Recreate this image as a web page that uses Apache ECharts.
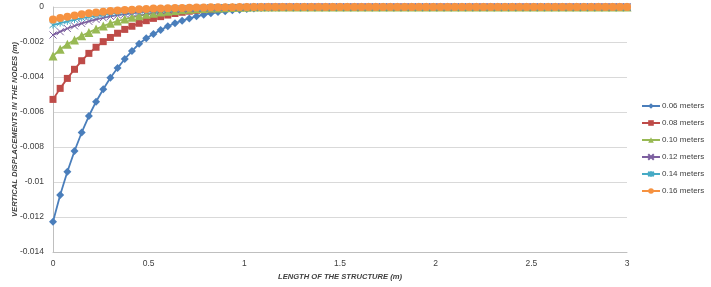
<!DOCTYPE html>
<html>
<head>
<meta charset="utf-8">
<script src="https://cdn.jsdelivr.net/npm/echarts@6/dist/echarts.min.js"></script>
<style>html,body{margin:0;padding:0;background:#fff}#c{width:711px;height:287px}</style>
</head>
<body>
<div id="c"></div>
<script>
// node positions along the structure (m), 81 nodes
const xNodes = [
  0,0.0375,0.075,0.1125,0.15,0.1875,0.225,0.2625,0.3,0.3375,
  0.375,0.4125,0.45,0.4875,0.525,0.5625,0.6,0.6375,0.675,0.7125,
  0.75,0.7875,0.825,0.8625,0.9,0.9375,0.975,1.0125,1.05,1.0875,
  1.125,1.1625,1.2,1.2375,1.275,1.3125,1.35,1.3875,1.425,1.4625,
  1.5,1.5375,1.575,1.6125,1.65,1.6875,1.725,1.7625,1.8,1.8375,
  1.875,1.9125,1.95,1.9875,2.025,2.0625,2.1,2.1375,2.175,2.2125,
  2.25,2.2875,2.325,2.3625,2.4,2.4375,2.475,2.5125,2.55,2.5875,
  2.625,2.6625,2.7,2.7375,2.775,2.8125,2.85,2.8875,2.925,2.9625,
  3];

const seriesNames = ['0.06 meters','0.08 meters','0.10 meters','0.12 meters','0.14 meters','0.16 meters'];

const d006 = [
  -0.01227,-0.01074,-0.00941,-0.00823,-0.00717,-0.00623,-0.00541,-0.00470,-0.00404,-0.00349,
  -0.00297,-0.00252,-0.00210,-0.00179,-0.00154,-0.00131,-0.00110,-0.00093,-0.00078,-0.00065,
  -0.00053,-0.00044,-0.00036,-0.00029,-0.00024,-0.00019,-0.00015,-0.00011,-0.00008,-0.00006,
  -0.00004,-0.00003,-0.00002,-0.00001,-0.000005,0,0,0,0,0,
  0,0,0,0,0,0,0,0,0,0,
  0,0,0,0,0,0,0,0,0,0,
  0,0,0,0,0,0,0,0,0,0,
  0,0,0,0,0,0,0,0,0,0,
  0];
const d008 = [
  -0.00528,-0.00465,-0.00408,-0.00356,-0.00307,-0.00265,-0.00230,-0.00198,-0.00174,-0.00150,
  -0.00128,-0.00110,-0.00093,-0.00078,-0.00065,-0.00055,-0.00046,-0.00037,-0.00030,-0.00024,
  -0.00019,-0.00015,-0.00011,-0.00008,-0.00006,-0.00004,-0.00003,-0.00002,-0.00001,-0.000005,
  0,0,0,0,0,0,0,0,0,0,
  0,0,0,0,0,0,0,0,0,0,
  0,0,0,0,0,0,0,0,0,0,
  0,0,0,0,0,0,0,0,0,0,
  0,0,0,0,0,0,0,0,0,0,
  0];
const d010 = [
  -0.00280,-0.00242,-0.00213,-0.00188,-0.00164,-0.00145,-0.00126,-0.00109,-0.00093,-0.00080,
  -0.00069,-0.00059,-0.00050,-0.00042,-0.00035,-0.00029,-0.00024,-0.00020,-0.00016,-0.00013,
  -0.00010,-0.00008,-0.00006,-0.00005,-0.00004,-0.00003,-0.00002,-0.00001,-0.000005,0,
  0,0,0,0,0,0,0,0,0,0,
  0,0,0,0,0,0,0,0,0,0,
  0,0,0,0,0,0,0,0,0,0,
  0,0,0,0,0,0,0,0,0,0,
  0,0,0,0,0,0,0,0,0,0,
  0];
const d012 = [
  -0.00160,-0.00141,-0.00123,-0.00108,-0.00094,-0.00082,-0.00071,-0.00062,-0.00054,-0.00047,
  -0.00041,-0.00036,-0.00031,-0.00027,-0.00023,-0.00020,-0.00017,-0.00014,-0.00012,-0.00010,
  -0.00008,-0.00007,-0.00005,-0.00004,-0.00003,-0.00003,-0.00002,-0.00001,-0.00001,-0.000005,
  0,0,0,0,0,0,0,0,0,0,
  0,0,0,0,0,0,0,0,0,0,
  0,0,0,0,0,0,0,0,0,0,
  0,0,0,0,0,0,0,0,0,0,
  0,0,0,0,0,0,0,0,0,0,
  0];
const d014 = [
  -0.00103,-0.00092,-0.00082,-0.00072,-0.00063,-0.00056,-0.00049,-0.00043,-0.00038,-0.00033,
  -0.00029,-0.00025,-0.00022,-0.00019,-0.00016,-0.00014,-0.00012,-0.00010,-0.00008,-0.00007,
  -0.00006,-0.00005,-0.00004,-0.00003,-0.00002,-0.00002,-0.00001,-0.00001,-0.000005,0,
  0,0,0,0,0,0,0,0,0,0,
  0,0,0,0,0,0,0,0,0,0,
  0,0,0,0,0,0,0,0,0,0,
  0,0,0,0,0,0,0,0,0,0,
  0,0,0,0,0,0,0,0,0,0,
  0];
const d016 = [
  -0.00072,-0.00063,-0.00055,-0.00048,-0.00042,-0.00036,-0.00031,-0.00027,-0.00023,-0.00020,
  -0.00017,-0.00015,-0.00013,-0.00011,-0.00009,-0.00008,-0.00007,-0.00006,-0.00005,-0.00004,
  -0.00003,-0.00003,-0.00002,-0.00002,-0.00001,-0.00001,-0.000005,0,0,0,
  0,0,0,0,0,0,0,0,0,0,
  0,0,0,0,0,0,0,0,0,0,
  0,0,0,0,0,0,0,0,0,0,
  0,0,0,0,0,0,0,0,0,0,
  0,0,0,0,0,0,0,0,0,0,
  0];

const yTicks = ['0','-0.002','-0.004','-0.006','-0.008','-0.01','-0.012','-0.014'];
const xTicks = ['0','0.5','1','1.5','2','2.5','3'];

const allData = [d006,d008,d010,d012,d014,d016];
const colors = ['#4a7ebb','#be4b48','#98b954','#7d60a0','#46aac5','#f69240'];
const symbols = ['diamond','rect','triangle',
  'path://M0,0L10,10M10,0L0,10',
  'path://M0,0L10,10M10,0L0,10M5,-1L5,11',
  'circle'];
const sizes = [8,7,9,7,7,8];

const font = 'Liberation Sans';

const series = allData.map((arr, i) => {
  const stroked = i === 3 || i === 4;
  return {
    name: seriesNames[i],
    type: 'line',
    data: xNodes.map((x, k) => [x, arr[k]]),
    symbol: symbols[i],
    symbolSize: sizes[i],
    showAllSymbol: true,
    lineStyle: { color: colors[i], width: 1.8 },
    itemStyle: stroked
      ? { color: colors[i], borderColor: colors[i], borderWidth: 1 }
      : { color: colors[i], borderColor: colors[i], borderWidth: 0 },
    emphasis: { disabled: true },
    animation: false,
    z: 2 + i
  };
});

const chart = echarts.init(document.getElementById('c'), null, { renderer: 'canvas' });
chart.setOption({
  animation: false,
  backgroundColor: '#fff',
  textStyle: { fontFamily: font },
  grid: { left: 53, right: 84, top: 7, bottom: 35, containLabel: false, outerBoundsMode: 'none' },
  xAxis: {
    type: 'value', min: 0, max: 3, interval: 0.5,
    name: 'LENGTH OF THE STRUCTURE (m)', nameLocation: 'middle', nameGap: 19,
    nameTextStyle: { fontFamily: font, fontSize: 7.6, fontWeight: 'bold', fontStyle: 'italic', color: '#404040' },
    axisLine: { show: true, onZero: false, lineStyle: { color: '#bfbfbf', width: 1 } },
    axisTick: { show: false },
    splitLine: { show: false },
    axisLabel: { fontFamily: font, fontSize: 8.5, color: '#404040', margin: 7,
      formatter: (v) => { const i = Math.round(v / 0.5); return xTicks[i] !== undefined ? xTicks[i] : ''; } }
  },
  yAxis: {
    type: 'value', min: -0.014, max: 0, interval: 0.002,
    name: 'VERTICAL DISPLACEMENTS IN THE NODES (m)', nameLocation: 'middle', nameGap: 34, nameRotate: 90,
    nameMoveOverlap: false,
    nameTextStyle: { fontFamily: font, fontSize: 7.6, fontWeight: 'bold', fontStyle: 'italic', color: '#404040' },
    axisLine: { show: true, lineStyle: { color: '#bfbfbf', width: 1 } },
    axisTick: { show: false },
    splitLine: { show: true, lineStyle: { color: '#d9d9d9', width: 1 } },
    axisLabel: { fontFamily: font, fontSize: 8.5, color: '#404040', margin: 9,
      formatter: (v) => { const i = Math.round(-v / 0.002); return yTicks[i] !== undefined ? yTicks[i] : ''; } }
  },
  legend: {
    orient: 'vertical', left: 636, top: 97,
    itemWidth: 18, itemHeight: 7, itemGap: 9,
    textStyle: { fontFamily: font, fontSize: 8, color: '#404040', padding: [0,0,0,-3] },
    data: seriesNames
  },
  series: series
});
</script>
</body>
</html>
